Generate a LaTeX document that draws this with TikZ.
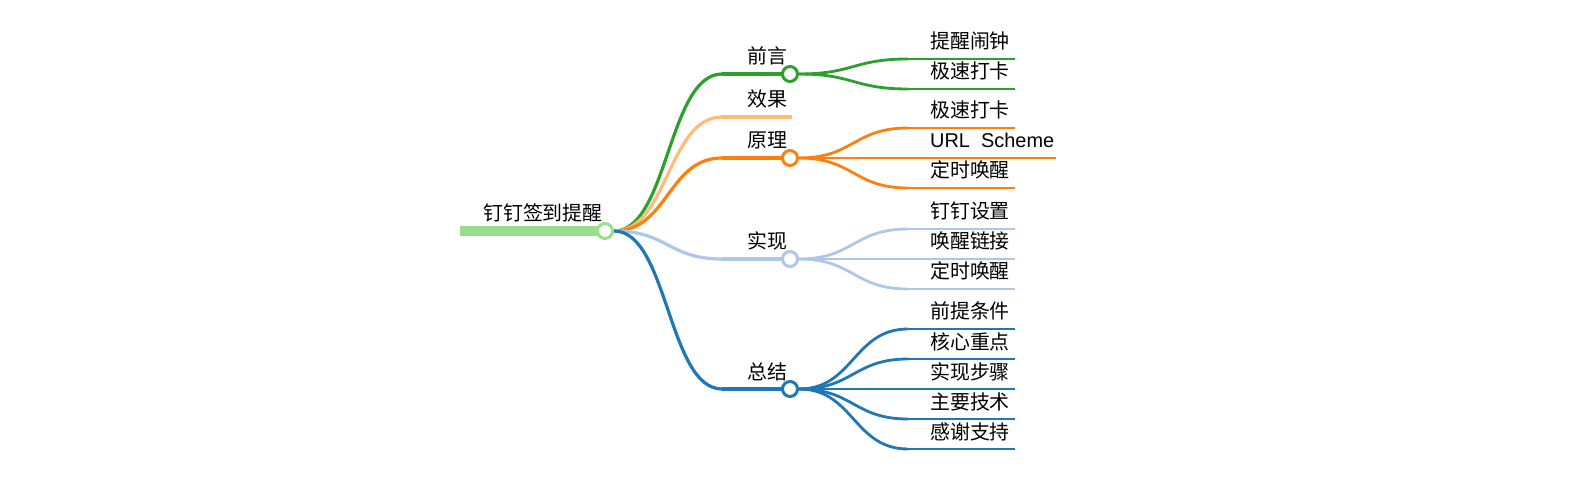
\documentclass[tikz,border=0pt]{standalone}
\usepackage{fontspec}
\setmainfont{Noto Sans CJK SC}
\newfontfamily\latf[WordSpace=2]{Liberation Sans}
\usetikzlibrary{calc}
\pgfdeclarelayer{bg}
\pgfsetlayers{bg,main}
\definecolor{rootg}{HTML}{98DF8A}
\definecolor{cg}{HTML}{2CA02C}
\definecolor{clo}{HTML}{FFBB78}
\definecolor{co}{HTML}{FF7F0E}
\definecolor{clb}{HTML}{AEC7E8}
\definecolor{cb}{HTML}{1F77B4}
\newcommand\mmlink[3]{\draw[#3] let \p1=(#1), \p2=(#2) in (\p1) .. controls ({(\x1+\x2)/2},\y1) and ({(\x1+\x2)/2},\y2) .. (\p2);}
\tikzset{
  lbl/.style={anchor=base west, inner sep=0pt, text=black, font=\fontsize{20}{22}\selectfont},
  knot/.style={circle, draw, fill=white, minimum size=15bp, inner sep=0pt, line width=3bp},
  lone/.style={line width=3.2bp},
  ltwo/.style={line width=2.8bp},
}
\begin{document}
\begin{tikzpicture}[x=1bp,y=-1bp]
\useasboundingbox (0,0) rectangle (1596,490);
% root
\coordinate (rbar) at (460,231);
\node[knot, draw=rootg] (r) at (605,231) {};
\node[lbl] (rt) at (483,221) {钉钉签到提醒};
% level 1
\coordinate (q1s) at (722,74);
\node[knot, draw=cg] (q1) at (790,74) {};
\node[lbl] (q1t) at (747,64) {前言};
\coordinate (q2s) at (722,117);
\coordinate (q2e) at (792,117);
\node[lbl] (q2t) at (747,107) {效果};
\coordinate (q3s) at (722,158);
\node[knot, draw=co] (q3) at (790,158) {};
\node[lbl] (q3t) at (747,148) {原理};
\coordinate (q4s) at (722,259);
\node[knot, draw=clb] (q4) at (790,259) {};
\node[lbl] (q4t) at (747,249) {实现};
\coordinate (q5s) at (722,389);
\node[knot, draw=cb] (q5) at (790,389) {};
\node[lbl] (q5t) at (747,379) {总结};
% level 2
\foreach \nm/\yy/\xe/\tx in {a1/59/1015/提醒闹钟, a2/89/1015/极速打卡,
  b1/128/1015/极速打卡, b3/188/1015/定时唤醒,
  c1/229/1015/钉钉设置, c2/259/1015/唤醒链接, c3/289/1015/定时唤醒,
  d1/329/1015/前提条件, d2/359/1015/核心重点, d3/389/1015/实现步骤, d4/419/1015/主要技术, d5/449/1015/感谢支持}{
  \coordinate (\nm s) at (908,\yy);
  \coordinate (\nm e) at (\xe,\yy);
  \node[lbl] (\nm t) at (930,\yy-10) {\tx};
}
\coordinate (b2s) at (908,158);
\coordinate (b2e) at (1056,158);
\node[lbl] (b2t) at (930,148) {\latf URL Scheme};
\begin{pgfonlayer}{bg}
  \draw[line width=10bp, rootg] (rbar) -- (r.center);
  % level-1 links
  \mmlink{r.east}{q1s}{cg, lone}
  \draw[cg, lone] (q1s) -- (q1.center);
  \mmlink{r.east}{q2s}{clo, lone}
  \draw[clo, lone] (q2s) -- (q2e);
  \mmlink{r.east}{q3s}{co, lone}
  \draw[co, lone] (q3s) -- (q3.center);
  \mmlink{r.east}{q4s}{clb, lone}
  \draw[clb, lone] (q4s) -- (q4.center);
  \mmlink{r.east}{q5s}{cb, lone}
  \draw[cb, lone] (q5s) -- (q5.center);
  % level-2 links
  \foreach \pn/\cc/\ln in {q1/cg/a1, q1/cg/a2, q3/co/b1, q3/co/b2, q3/co/b3,
    q4/clb/c1, q4/clb/c2, q4/clb/c3,
    q5/cb/d1, q5/cb/d2, q5/cb/d3, q5/cb/d4, q5/cb/d5}{
    \mmlink{\pn.east}{\ln s}{\cc, ltwo}
    \draw[\cc, ltwo] (\ln s) -- (\ln e);
  }
\end{pgfonlayer}
\end{tikzpicture}
\end{document}
